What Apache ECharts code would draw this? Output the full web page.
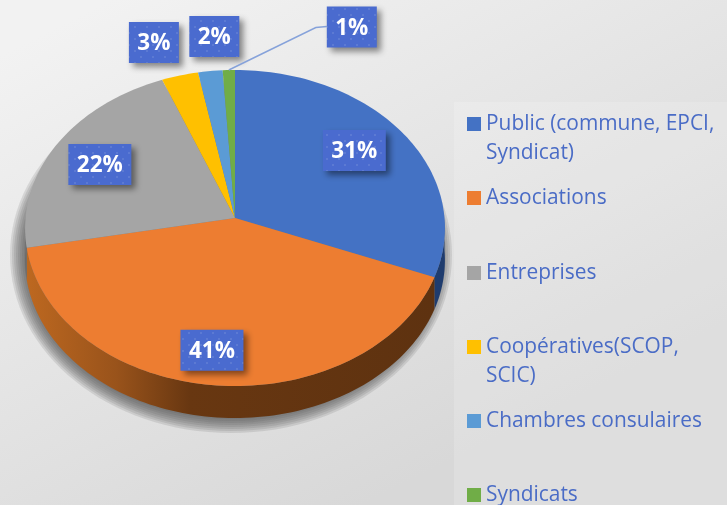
<!DOCTYPE html>
<html><head><meta charset="utf-8">
<style>html,body{margin:0;padding:0;background:#e6e6e6}#c{width:727px;height:505px}</style>
<script src="https://cdn.jsdelivr.net/npm/echarts@6/dist/echarts.min.js"></script>
</head><body><div id="c"></div>
<script>
const categories = ['Public (commune, EPCI,\nSyndicat)', 'Associations', 'Entreprises', 'Coopératives(SCOP,\nSCIC)', 'Chambres consulaires', 'Syndicats'];
const shares = [31, 41, 22, 3, 2, 1];
const colors = ['#4472c4', '#ed7d31', '#a5a5a5', '#ffc000', '#5b9bd5', '#70ad47'];
const wallColors = ['#1f3c6e', null, '#6b6b6b', '#8a6a00', '#30567a', '#3d6027'];
const labelOffsets = [[-48, 18], [-2, -35], [43, 20], [-26, -33], [4, -34.5], [123, -43]];
const labelWidths = [63, 63, 63, 50, 50, 50];
const legendCenters = [124, 198, 273, 347, 421, 495];

const apexX = 235, apexY = 218, radX = 209.5, radY = 157.4, persp = 0.0633, depth = 32;
const total = shares.reduce((a, b) => a + b, 0);
function rim(deg) {
  const t = deg * Math.PI / 180, x = Math.sin(t), y = -Math.cos(t), d = 1 - persp * y;
  return [apexX + radX * x / d, apexY + radY * y / d];
}
function arc(a0, a1) {
  const pts = [], n = Math.max(2, Math.ceil((a1 - a0) / 1.5));
  for (let i = 0; i <= n; i++) pts.push(rim(a0 + (a1 - a0) * i / n));
  return pts;
}
const dotCanvas = document.createElement('canvas');
dotCanvas.width = dotCanvas.height = 12;
(function () {
  const g = dotCanvas.getContext('2d');
  g.fillStyle = '#4a6bcf'; g.fillRect(0, 0, 12, 12);
  g.fillStyle = 'rgba(255,255,255,0.1)';
  g.fillRect(2, 2, 2, 2); g.fillRect(8, 8, 2, 2);
})();
const orangeWall = new echarts.graphic.LinearGradient(0, 0, 1, 0, [
  { offset: 0, color: '#bd6820' }, { offset: 0.22, color: '#99531b' },
  { offset: 0.4, color: '#683711' }, { offset: 1, color: '#5e3210' }]);

const shadowLayers = [14, 12, 10, 8, 6, 4, 2, 0].map(grow => ({
  type: 'ellipse',
  shape: { cx: 231, cy: 255, rx: 207 + grow, ry: 164 + grow },
  style: { fill: 'rgba(80,80,80,0.14)' }
}));

function sliceRenderer(i) {
  const before = shares.slice(0, i).reduce((a, b) => a + b, 0);
  const a0 = before / total * 360, a1 = (before + shares[i]) / total * 360;
  return function () {
    const children = i === 0 ? shadowLayers.slice() : [];
    const w0 = Math.max(a0, 90), w1 = Math.min(a1, 270);
    if (w1 > w0) {
      const top = arc(w0, w1);
      const bottom = top.map(p => [p[0], p[1] + depth]).reverse();
      children.push({ type: 'polygon', shape: { points: top.concat(bottom) },
        style: { fill: i === 1 ? orangeWall : wallColors[i] } });
    }
    children.push({ type: 'polygon', shape: { points: [[apexX, apexY]].concat(arc(a0, a1)) },
      style: { fill: colors[i] } });
    const m = rim((a0 + a1) / 2);
    const lx = m[0] + labelOffsets[i][0], ly = m[1] + labelOffsets[i][1];
    const w = labelWidths[i], h = 41;
    if (i === 5) {
      children.push({ type: 'polyline',
        shape: { points: [m, [lx - w / 2 - 11, ly + 0.5], [lx - w / 2, ly - 0.5]] },
        style: { stroke: '#86a2da', lineWidth: 1.5, fill: 'none' } });
    }
    children.push({ type: 'rect', shape: { x: lx - w / 2, y: ly - h / 2, width: w, height: h },
      style: { fill: { image: dotCanvas, repeat: 'repeat' }, shadowBlur: 6, shadowOffsetX: 4, shadowOffsetY: 4, shadowColor: 'rgba(0,0,0,0.45)' } });
    children.push({ type: 'text', x: lx, y: ly + 1.5,
      style: { text: shares[i] + '%', fill: '#fff', align: 'center', verticalAlign: 'middle',
        font: 'bold 22.5px "Open Sans", sans-serif' } });
    return { type: 'group', children };
  };
}

const chart = echarts.init(document.getElementById('c'), null, { renderer: 'canvas' });
chart.setOption({
  animation: false,
  backgroundColor: new echarts.graphic.LinearGradient(0.15, 0, 0.5, 1, [
    { offset: 0, color: '#f2f2f2' }, { offset: 1, color: '#d8d8d8' }]),
  graphic: [
    { type: 'rect', z: -2, shape: { x: 454, y: 102, width: 273, height: 403 },
      style: { fill: 'rgba(255,255,255,0.16)' } }
  ],
  legend: categories.map((name, i) => ({
    data: [name], left: 467, top: legendCenters[i] - (name.includes('\n') ? 43.5 : 14.5),
    icon: 'rect', itemWidth: 14, itemHeight: 14, selectedMode: false,
    padding: 0,
    formatter: n => n.includes('\n') ? '\n' + n : n,
    textStyle: { color: '#4a6cc6', fontSize: 20.9, fontFamily: '"Open Sans", sans-serif', lineHeight: 29 }
  })),
  series: categories.map((name, i) => ({
    type: 'custom', name, coordinateSystem: 'none', silent: true,
    itemStyle: { color: colors[i] }, data: [shares[i]], renderItem: sliceRenderer(i)
  }))
});
</script></body></html>
